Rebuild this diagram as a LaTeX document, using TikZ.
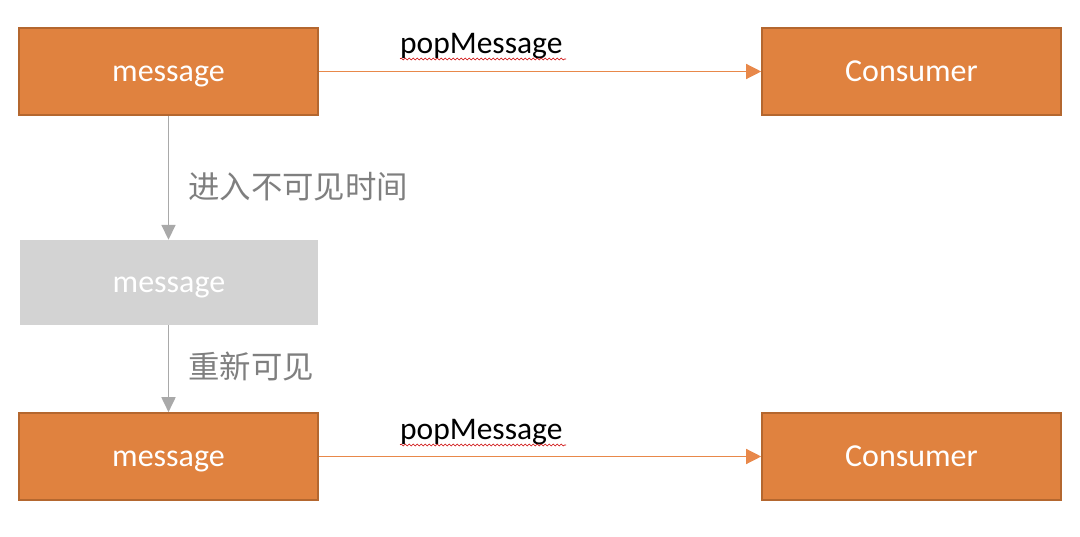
\documentclass[tikz,border=0pt]{standalone}
\usepackage{fontspec}
\setmainfont{Carlito}
\newfontfamily\cjk{Noto Sans CJK SC}
\usepackage{tikz}
\usetikzlibrary{arrows.meta,decorations.pathmorphing}
\definecolor{boxorange}{HTML}{E0823F}
\definecolor{boxedge}{HTML}{B4672F}
\definecolor{boxgray}{HTML}{D3D3D3}
\definecolor{arroworange}{HTML}{E8884A}
\definecolor{arrowgray}{HTML}{A9A9A9}
\definecolor{labgray}{HTML}{7F7F7F}

\begin{document}
\begin{tikzpicture}[
  x=1pt,y=1pt,
  msgbox/.style={rectangle,draw=boxedge,line width=1.6pt,fill=boxorange,
    minimum width=299pt,minimum height=87pt,inner sep=0pt,text=white,
    text height=21pt,text depth=0pt,font=\fontsize{32}{36}\selectfont},
  hidbox/.style={rectangle,fill=boxgray,minimum width=298pt,minimum height=85pt,
    inner sep=0pt,text=white,text height=21pt,text depth=0pt,
    font=\fontsize{32}{36}\selectfont},
  pop/.style={draw=arroworange,line width=1.3pt,-{Triangle[length=15pt,width=15pt]}},
  wait/.style={draw=arrowgray,line width=1.8pt,-{Triangle[length=15pt,width=14pt]}},
  lab/.style={font=\fontsize{31.5}{36}\selectfont,inner sep=0pt},
  cjklab/.style={font=\cjk\fontsize{31.4}{36}\selectfont,text=labgray,inner sep=0pt},
  squiggle/.style={draw=red!80!black,line width=0.6pt,
    decorate,decoration={snake,amplitude=1pt,segment length=4pt}}
]
\useasboundingbox (0,0) rectangle (1080,536);

% ===================== TOP ROW =====================
\node[msgbox] (msg1) at (168.5,464.5) {message};
\node[msgbox] (cons1) at (911.5,464.5) {Consumer};
\draw[pop] (msg1) -- (cons1);
\node[lab,anchor=base west] (pop1) at (400,482) {popMessage};
\draw[squiggle] (pop1.base west) ++(0,-5) -- ++(166,0);

% ===================== MIDDLE: invisible =====================
\node[hidbox] (msg2) at (169,253.5) {message};
\draw[wait] (msg1) -- (msg1 |- msg2.north);
\node[cjklab,anchor=west] (hide) at (188,349) {进入不可见时间};

% ===================== BOTTOM ROW =====================
\node[msgbox] (msg3) at (168.5,79.5) {message};
\node[msgbox] (cons3) at (911.5,79.5) {Consumer};
\draw[wait] (msg1 |- msg2.south) -- (msg3);
\node[cjklab,anchor=west] (show) at (188,169) {重新可见};
\draw[pop] (msg3) -- (cons3);
\node[lab,anchor=base west] (pop3) at (400,96) {popMessage};
\draw[squiggle] (pop3.base west) ++(0,-5) -- ++(166,0);

\end{tikzpicture}
\end{document}
